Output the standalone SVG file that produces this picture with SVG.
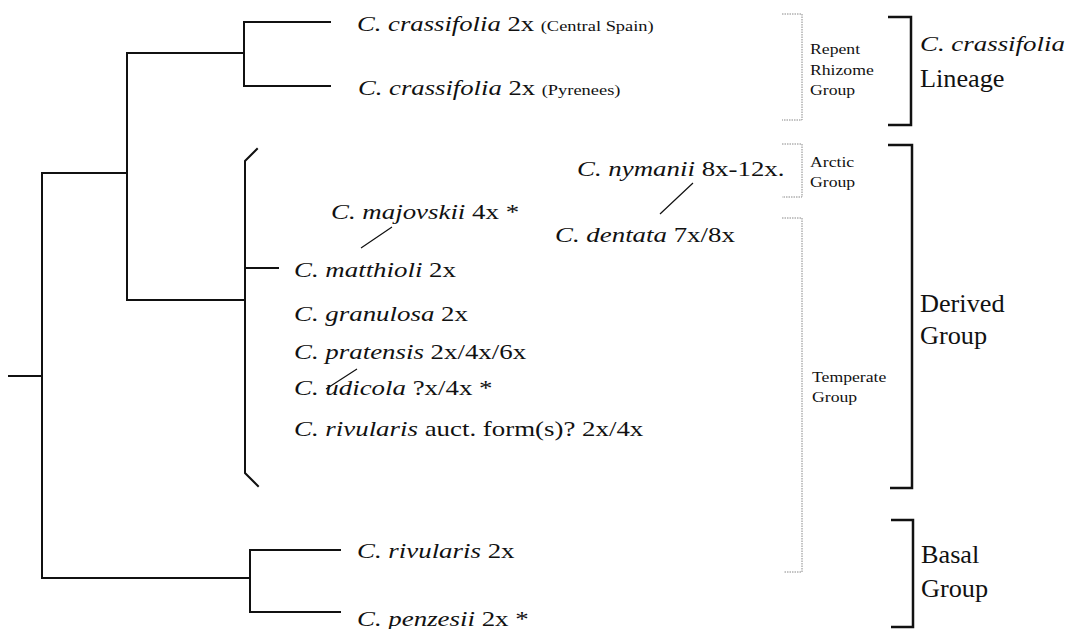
<svg xmlns="http://www.w3.org/2000/svg" width="1066" height="629" viewBox="0 0 1066 629">
  <style>
    .tree { fill: none; stroke: #111; stroke-width: 2; stroke-linecap: square; }
    .link { fill: none; stroke: #111; stroke-width: 1.2; }
    .dots { fill: none; stroke: #888; stroke-width: 1; stroke-dasharray: 1.5 1; }
    .brk { fill: none; stroke: #111; stroke-width: 2.5; }
    .tx { font-family: "Liberation Serif", "Times New Roman", serif; fill: #111; }
    .taxon { font-size: 21px; }
    .it { font-style: italic; }
    .small { font-size: 14.5px; }
    .grp { font-size: 14.5px; }
    .big { font-size: 25px; }
  </style>

  <!-- branches of the tree -->
  <g id="connectors">
    <path class="tree" d="M9,376 H42 M42,173 V578 M42,173 H127 M127,53 V300 M127,53 H244 M244,22 V86 M244,22 H330 M244,86 H330 M127,300 H245 M42,578 H250 M250,550 V612 M250,550 H340 M250,612 H340 M246,268 H278"/>
    <path class="tree" d="M257,149 L245,161 V473 L258,486"/>
    <path class="link" d="M392,227 L361,248 M693,183 L660,214 M357,369 L326,389"/>
  </g>

  <!-- taxa -->
  <g id="taxon-crassifolia-spain">
    <text class="tx taxon" transform="translate(357,31) scale(1.27,1)"><tspan class="it">C. crassifolia</tspan> 2x <tspan class="small">(Central Spain)</tspan></text>
  </g>
  <g id="taxon-crassifolia-pyrenees">
    <text class="tx taxon" transform="translate(358,95) scale(1.27,1)"><tspan class="it">C. crassifolia</tspan> 2x <tspan class="small">(Pyrenees)</tspan></text>
  </g>
  <g id="taxon-nymanii">
    <text class="tx taxon" transform="translate(577,176) scale(1.28,1)"><tspan class="it">C. nymanii</tspan> 8x-12x.</text>
  </g>
  <g id="taxon-majovskii">
    <text class="tx taxon" transform="translate(331,219) scale(1.28,1)"><tspan class="it">C. majovskii</tspan> 4x *</text>
  </g>
  <g id="taxon-dentata">
    <text class="tx taxon" transform="translate(555,242) scale(1.28,1)"><tspan class="it">C. dentata</tspan> 7x/8x</text>
  </g>
  <g id="taxon-matthioli">
    <text class="tx taxon" transform="translate(294,277) scale(1.28,1)"><tspan class="it">C. matthioli</tspan> 2x</text>
  </g>
  <g id="taxon-granulosa">
    <text class="tx taxon" transform="translate(294,321) scale(1.28,1)"><tspan class="it">C. granulosa</tspan> 2x</text>
  </g>
  <g id="taxon-pratensis">
    <text class="tx taxon" transform="translate(294,359) scale(1.28,1)"><tspan class="it">C. pratensis</tspan> 2x/4x/6x</text>
  </g>
  <g id="taxon-udicola">
    <text class="tx taxon" transform="translate(294,395) scale(1.28,1)"><tspan class="it">C. udicola</tspan> ?x/4x *</text>
  </g>
  <g id="taxon-rivularis-auct">
    <text class="tx taxon" transform="translate(294,436) scale(1.28,1)"><tspan class="it">C. rivularis</tspan> auct. form(s)? 2x/4x</text>
  </g>
  <g id="taxon-rivularis">
    <text class="tx taxon" transform="translate(357,558) scale(1.28,1)"><tspan class="it">C. rivularis</tspan> 2x</text>
  </g>
  <g id="taxon-penzesii">
    <text class="tx taxon" transform="translate(357,626) scale(1.28,1)"><tspan class="it">C. penzesii</tspan> 2x *</text>
  </g>

  <!-- dotted sub-group brackets -->
  <g id="group-repent">
    <path class="dots" d="M782,14 H802 V120 H782"/>
    <text class="tx grp" transform="translate(810,54) scale(1.22,1)">Repent</text>
    <text class="tx grp" transform="translate(810,75) scale(1.22,1)">Rhizome</text>
    <text class="tx grp" transform="translate(810,95) scale(1.22,1)">Group</text>
  </g>
  <g id="group-arctic">
    <path class="dots" d="M782,144 H802 V197 H782"/>
    <text class="tx grp" transform="translate(810,167) scale(1.22,1)">Arctic</text>
    <text class="tx grp" transform="translate(810,187) scale(1.22,1)">Group</text>
  </g>
  <g id="group-temperate">
    <path class="dots" d="M782,218 H802 V572 H784"/>
    <text class="tx grp" transform="translate(812,382) scale(1.22,1)">Temperate</text>
    <text class="tx grp" transform="translate(812,402) scale(1.22,1)">Group</text>
  </g>

  <!-- solid main-group brackets -->
  <g id="group-lineage">
    <path class="brk" d="M888,17 H911 V125 H888"/>
    <text class="tx taxon it" transform="translate(920,51) scale(1.28,1)">C. crassifolia</text>
    <text class="tx big" transform="translate(920,87) scale(1.05,1)">Lineage</text>
  </g>
  <g id="group-derived">
    <path class="brk" d="M888,145 H912 V488 H890"/>
    <text class="tx big" transform="translate(920,312) scale(1.05,1)">Derived</text>
    <text class="tx big" transform="translate(920,344) scale(1.05,1)">Group</text>
  </g>
  <g id="group-basal">
    <path class="brk" d="M891,520 H913 V627 H891"/>
    <text class="tx big" transform="translate(921,563) scale(1.05,1)">Basal</text>
    <text class="tx big" transform="translate(921,597) scale(1.05,1)">Group</text>
  </g>
</svg>
